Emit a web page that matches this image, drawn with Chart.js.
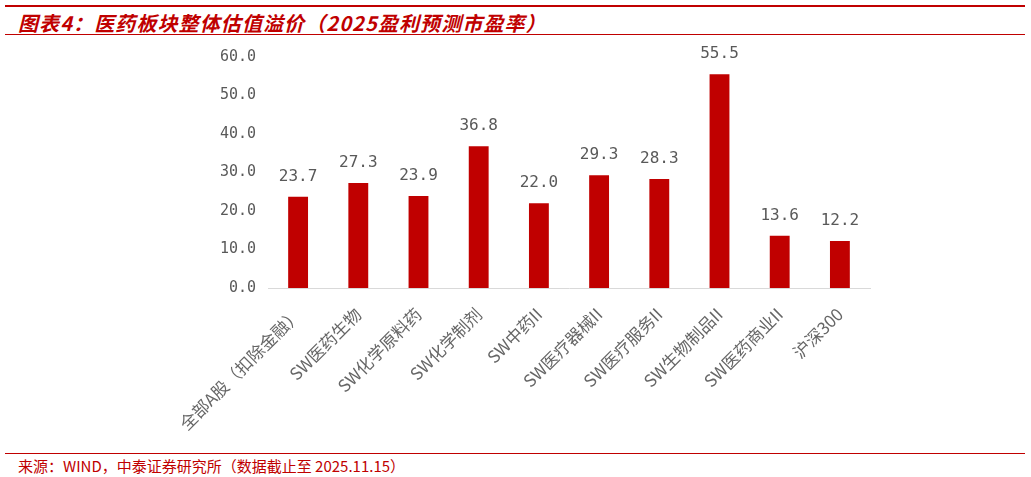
<!DOCTYPE html>
<html>
<head>
<meta charset="utf-8">
<script src="https://cdn.jsdelivr.net/npm/chart.js@4/dist/chart.umd.min.js"></script>
<style>
  body { margin:0; width:1031px; height:477px; background:#fff; position:relative; overflow:hidden; font-family:"Noto Sans CJK SC", sans-serif; }
  .top-line { position:absolute; left:5px; right:6px; top:5px; height:2px; background:#c00000; }
  .title { position:absolute; left:18px; top:8px; font-size:20px; font-weight:700; font-style:italic; color:#c00000; letter-spacing:1.1px; }
  .title-line { position:absolute; left:5px; right:6px; top:34px; height:1px; background:#c00000; }
  .foot-line { position:absolute; left:5px; right:6px; top:453px; height:1px; background:#c00000; }
  .foot { position:absolute; left:18px; top:455px; font-size:15px; color:#c00000; }
  #wrap { position:absolute; left:0; top:40px; width:1031px; height:410px; }
</style>
</head>
<body>
<div class="top-line"></div>
<div class="title">图表4：医药板块整体估值溢价（2025盈利预测市盈率）</div>
<div class="title-line"></div>
<div id="wrap"><canvas id="c"></canvas></div>
<div class="foot-line"></div>
<div class="foot">来源：WIND，中泰证券研究所（数据截止至 2025.11.15）</div>
<script>
// categories and values
const categories = ['全部A股（扣除金融）', 'SW医药生物', 'SW化学原料药', 'SW化学制剂', 'SW中药II',
    'SW医疗器械II', 'SW医疗服务II', 'SW生物制品II', 'SW医药商业II', '沪深300'];
const peValues = [23.7, 27.3, 23.9, 36.8, 22.0, 29.3, 28.3, 55.5, 13.6, 12.2];
const yTicks = [0, 10, 20, 30, 40, 50, 60];

// draw value labels above bars
const valueLabels = {
    id: 'valueLabels',
    afterDatasetsDraw(chart) {
        const ctx = chart.ctx;
        const meta = chart.getDatasetMeta(0);
        ctx.save();
        ctx.fillStyle = '#595959';
        ctx.font = '16px "DejaVu Sans Mono", monospace';
        ctx.textAlign = 'center';
        ctx.textBaseline = 'bottom';
        meta.data.forEach((bar, i) => {
            ctx.fillText(peValues[i].toFixed(1), bar.x, bar.y - 12);
        });
        ctx.restore();
    }
};

new Chart(document.getElementById('c'), {
    type: 'bar',
    data: {
        labels: categories,
        datasets: [{ data: peValues, backgroundColor: '#c00000', categoryPercentage: 1, barPercentage: 0.33 }]
    },
    options: {
        responsive: true, maintainAspectRatio: false, animation: false,
        layout: { padding: { left: 200, right: 161, top: 17, bottom: 2 } },
        plugins: { legend: { display: false }, tooltip: { enabled: false } },
        scales: {
            x: {
                grid: { display: false, drawTicks: false },
                border: { color: '#d9d9d9', width: 1 },
                ticks: { color: '#666666', font: { size: 17, family: '"Noto Sans CJK SC", sans-serif' }, minRotation: 45, maxRotation: 45, autoSkip: false, padding: 16 },
                afterFit: s => { s.height = 160; }
            },
            y: {
                min: 0, max: 60,
                grid: { display: false },
                border: { display: false },
                afterBuildTicks: s => { s.ticks = yTicks.map(v => ({ value: v })); },
                ticks: { color: '#595959', font: { size: 15, family: '"DejaVu Sans Mono", monospace' }, padding: 4, callback: v => v.toFixed(1) },
                afterFit: s => { s.width = 68; }
            }
        }
    },
    plugins: [valueLabels]
});
</script>
</body>
</html>
